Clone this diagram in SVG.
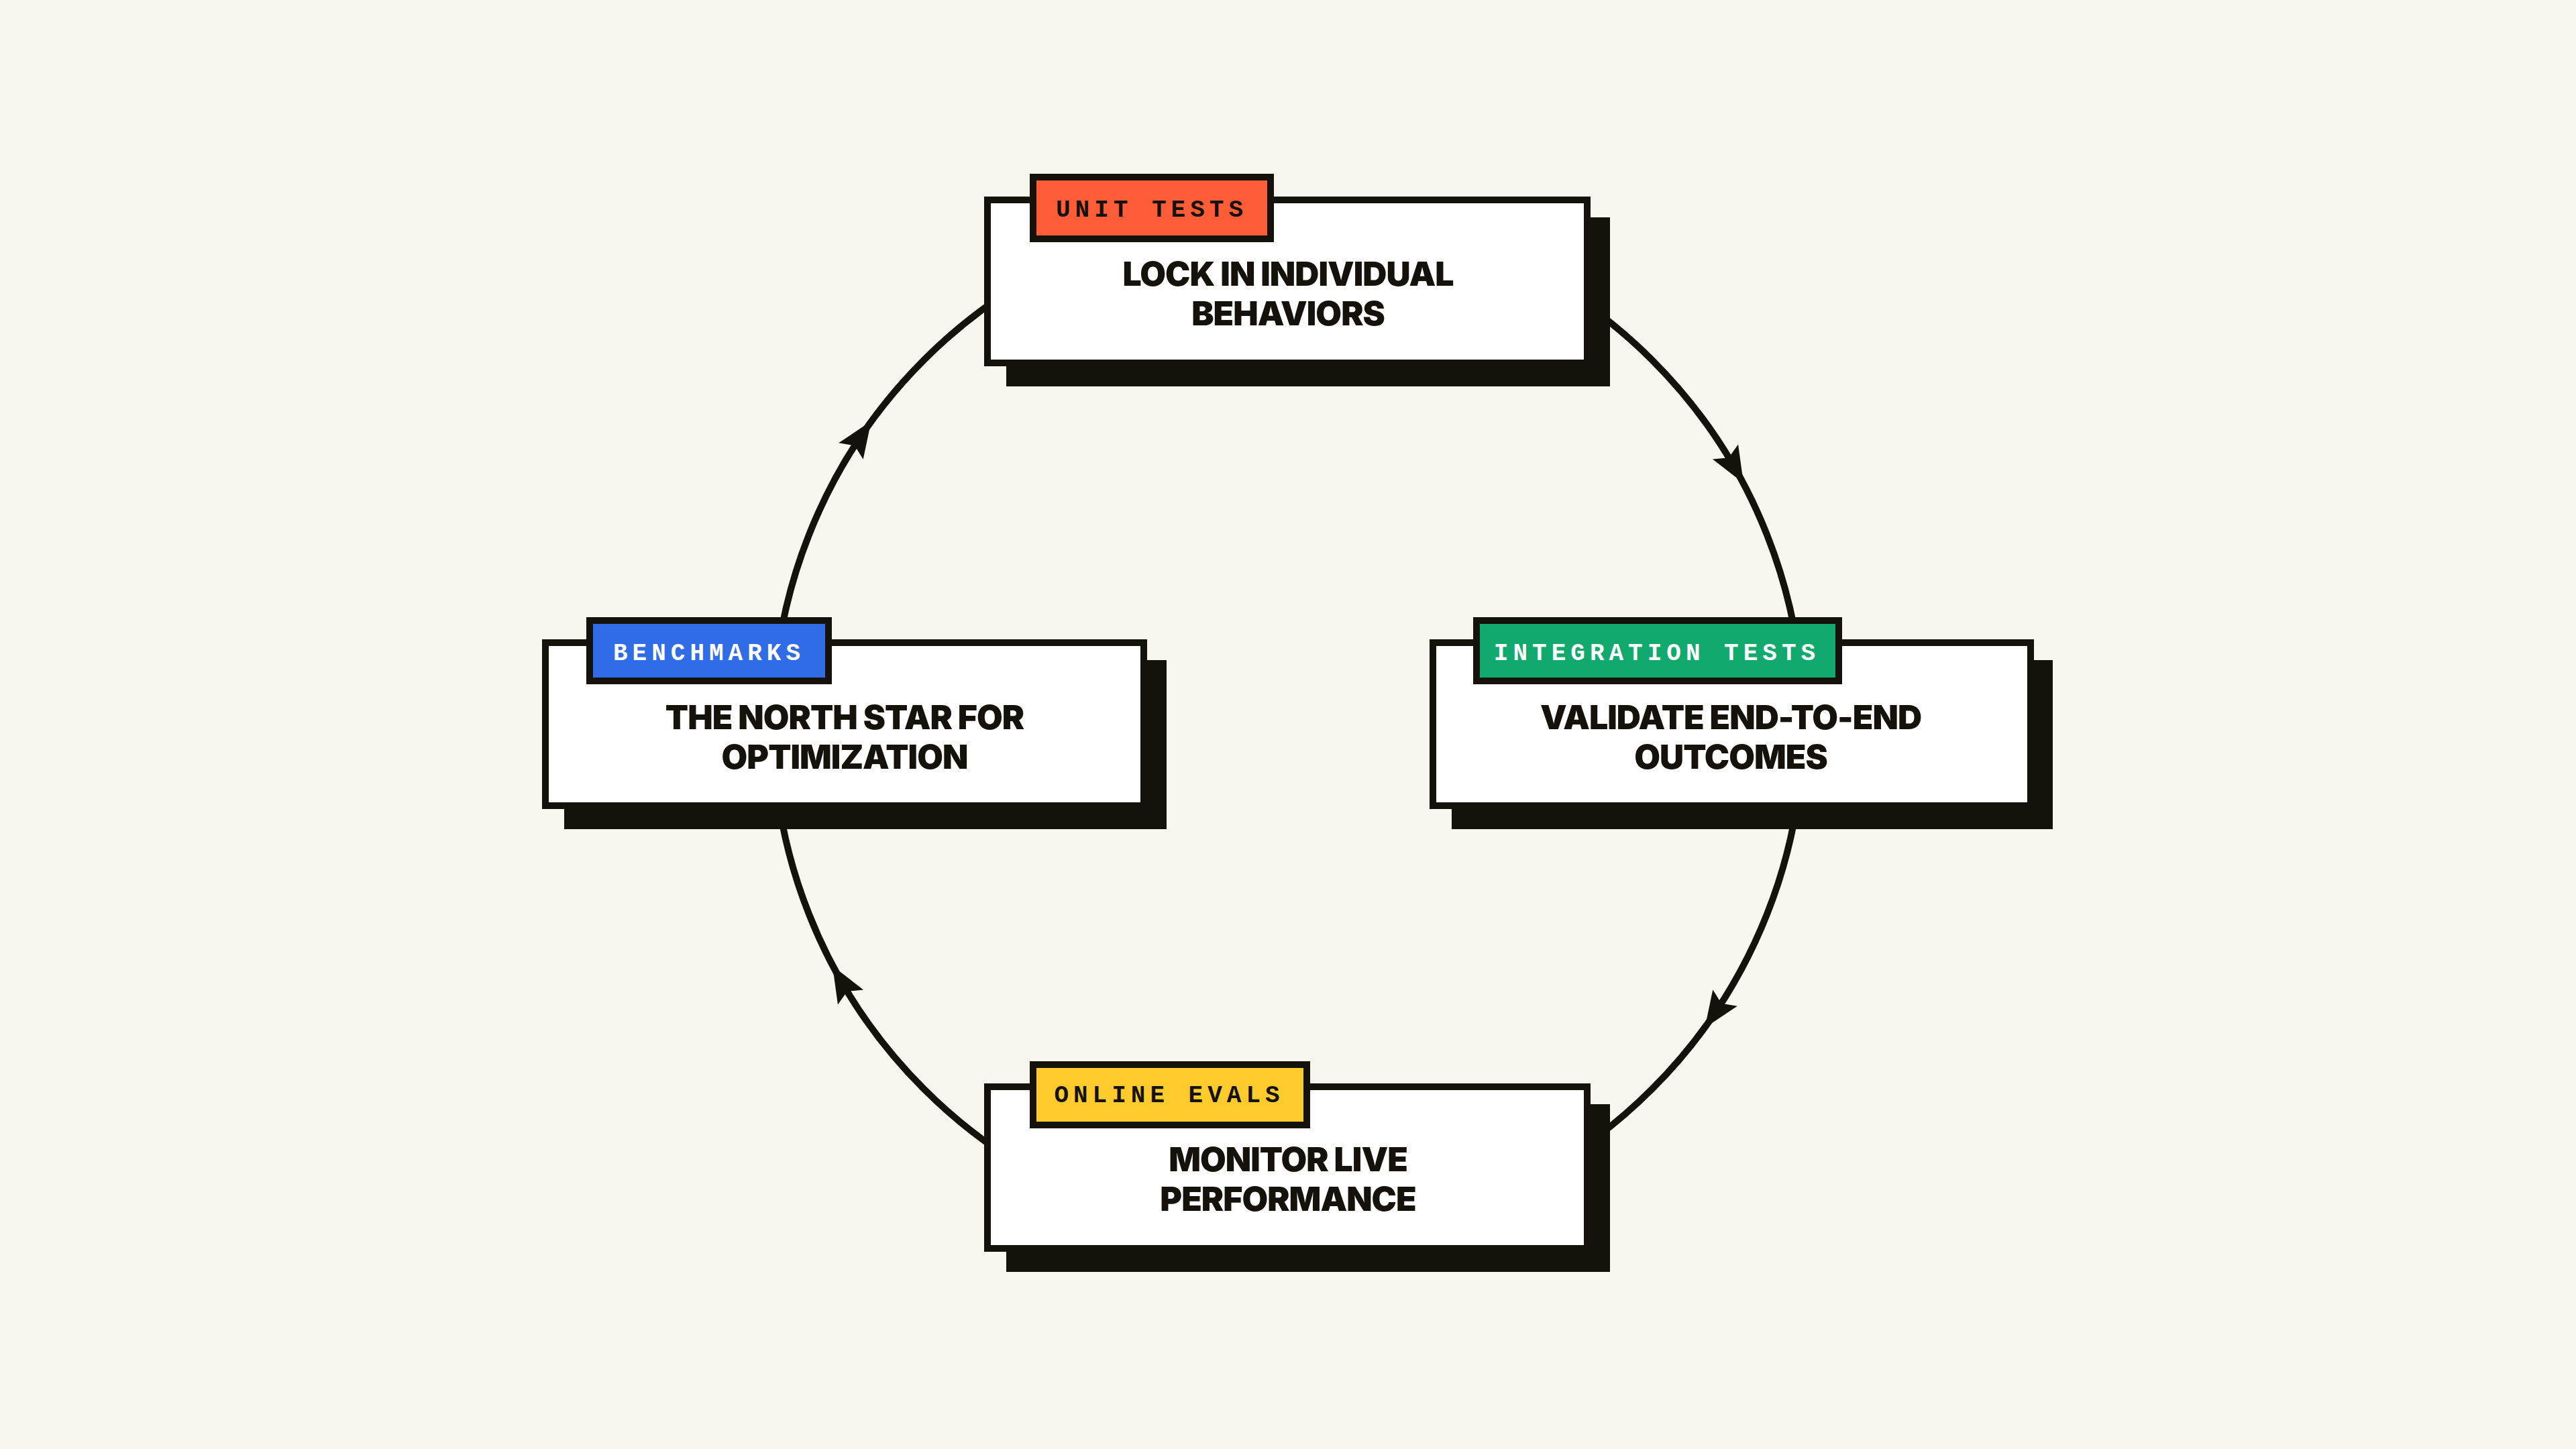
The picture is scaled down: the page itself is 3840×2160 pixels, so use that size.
<svg xmlns="http://www.w3.org/2000/svg" width="3840" height="2160" viewBox="0 0 3840 2160">
<style>
.sh{fill:#15120c}
.box{fill:#fff;stroke:#15120c;stroke-width:10}
.tag{stroke:#15120c;stroke-width:10}
.t{font-family:Inter,"Liberation Sans",sans-serif;font-weight:900;font-size:50px;fill:#15120c;text-anchor:middle;letter-spacing:-1px}
.g{font-family:"Liberation Mono","DejaVu Sans Mono",monospace;font-weight:bold;font-size:36px;text-anchor:middle;letter-spacing:7px}
</style>
<rect width="3840" height="2160" fill="#f9f6ef"/>
<g id="connectors">
<circle cx="1920" cy="1080" r="768" fill="none" stroke="#15120c" stroke-width="10"/>
<g fill="#15120c">
<polygon points="28,0 -26,-22 -16,0 -26,22" transform="translate(2585,696) rotate(60)"/>
<polygon points="28,0 -26,-22 -16,0 -26,22" transform="translate(2557,1509) rotate(124)"/>
<polygon points="28,0 -26,-22 -16,0 -26,22" transform="translate(1255,1464) rotate(240)"/>
<polygon points="28,0 -26,-22 -16,0 -26,22" transform="translate(1283,651) rotate(304)"/>
</g>
</g>
<g id="unit">
<rect class="sh" x="1500" y="324" width="900" height="252"/>
<rect class="box" x="1472" y="298" width="894" height="243"/>
<rect class="tag" x="1540" y="264" width="354" height="92" fill="#ff5c38"/>
<text class="g" x="1717" y="323" fill="#15120c">UNIT TESTS</text>
<text class="t" x="1920" y="426">LOCK IN INDIVIDUAL</text>
<text class="t" x="1920" y="485">BEHAVIORS</text>
</g>
<g id="integration">
<rect class="sh" x="2164" y="984" width="896" height="252"/>
<rect class="box" x="2136" y="958" width="891" height="243"/>
<rect class="tag" x="2201" y="925" width="540" height="90" fill="#12a96e"/>
<text class="g" x="2470" y="984" fill="#fff">INTEGRATION TESTS</text>
<text class="t" x="2580" y="1087">VALIDATE END-TO-END</text>
<text class="t" x="2580" y="1146">OUTCOMES</text>
</g>
<g id="online">
<rect class="sh" x="1500" y="1646" width="900" height="250"/>
<rect class="box" x="1472" y="1620" width="894" height="241"/>
<rect class="tag" x="1540" y="1587" width="408" height="90" fill="#fdcb2b"/>
<text class="g" x="1743" y="1643" fill="#15120c">ONLINE EVALS</text>
<text class="t" x="1920" y="1746">MONITOR LIVE</text>
<text class="t" x="1920" y="1805">PERFORMANCE</text>
</g>
<g id="benchmarks">
<rect class="sh" x="841" y="984" width="898" height="252"/>
<rect class="box" x="813" y="958" width="892" height="243"/>
<rect class="tag" x="879" y="925" width="356" height="90" fill="#2f6ce5"/>
<text class="g" x="1057" y="984" fill="#fff">BENCHMARKS</text>
<text class="t" x="1259" y="1087">THE NORTH STAR FOR</text>
<text class="t" x="1259" y="1146">OPTIMIZATION</text>
</g>
</svg>
